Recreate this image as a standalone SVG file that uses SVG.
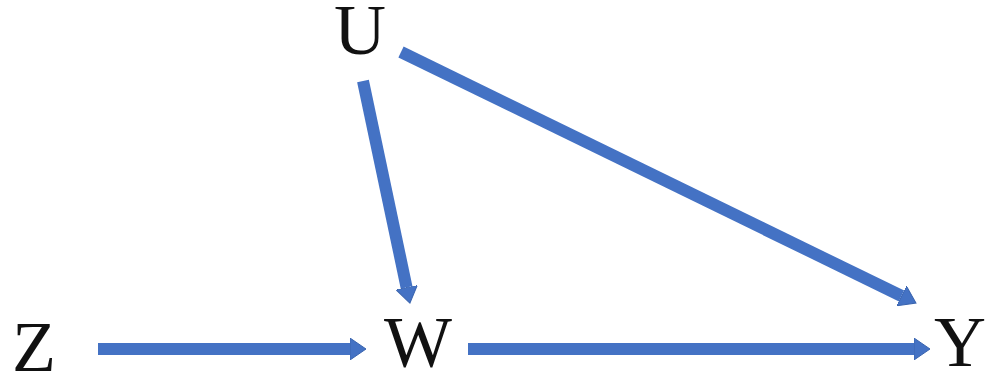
<svg xmlns="http://www.w3.org/2000/svg" width="1001" height="378" viewBox="0 0 1001 378">
  <style>
    .lbl { font-family: "Liberation Serif", "Times New Roman", serif; font-size: 72px; fill: #111; }
    .edge { stroke: #4472C4; stroke-width: 12; fill: none; }
  </style>
  <defs>
    <marker id="ah" markerUnits="userSpaceOnUse" markerWidth="17" markerHeight="22" refX="0" refY="11" orient="auto">
      <path d="M0,0 L16,11 L0,22 Z" fill="#4472C4" stroke="#3A64AE" stroke-width="1"/>
    </marker>
  </defs>
  <rect width="1001" height="378" fill="#ffffff"/>
  <g id="connectors">
    <line class="edge" x1="98" y1="349" x2="350" y2="349" marker-end="url(#ah)"/>
    <line class="edge" x1="468" y1="349" x2="914" y2="349" marker-end="url(#ah)"/>
    <line class="edge" x1="363" y1="81" x2="406.6" y2="287.4" marker-end="url(#ah)"/>
    <line class="edge" x1="401" y1="52" x2="901.6" y2="296" marker-end="url(#ah)"/>
  </g>
  <g id="node-U"><text class="lbl" x="334" y="54">U</text></g>
  <g id="node-Z"><text class="lbl" x="12" y="371">Z</text></g>
  <g id="node-W"><text class="lbl" x="384" y="366">W</text></g>
  <g id="node-Y"><text class="lbl" x="934" y="366">Y</text></g>
</svg>
